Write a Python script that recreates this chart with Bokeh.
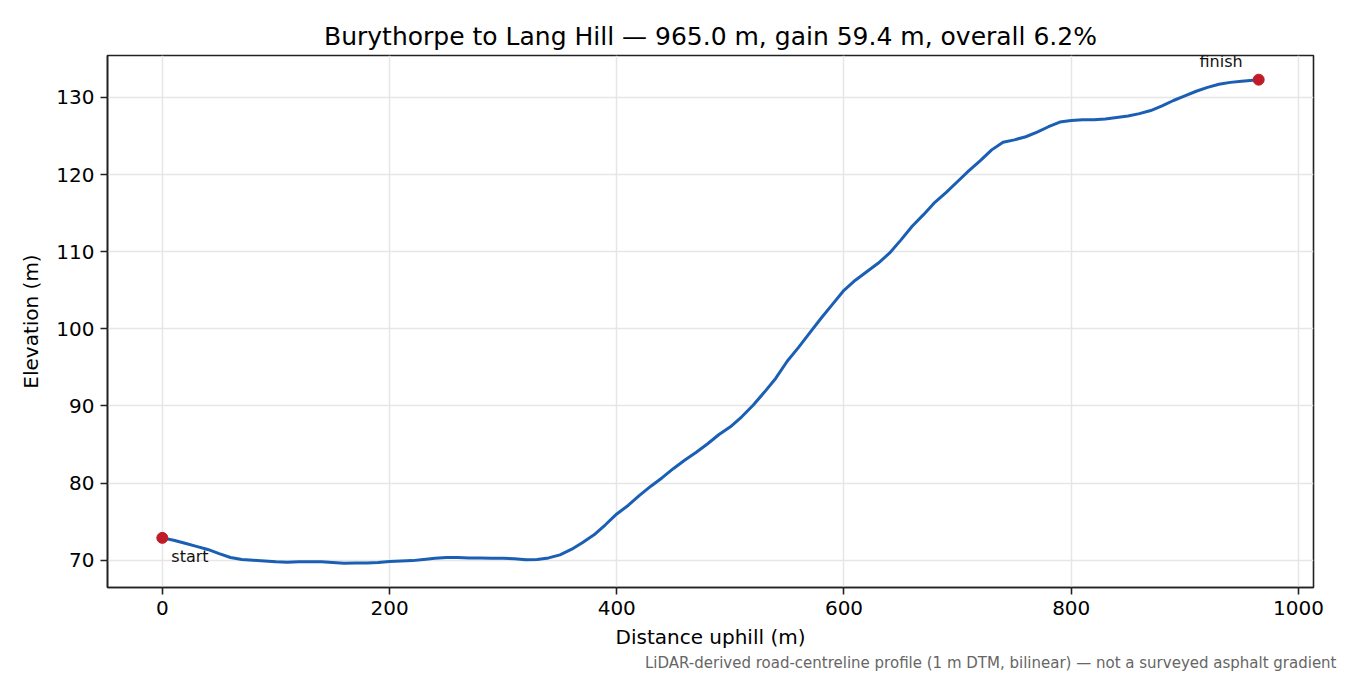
from bokeh.plotting import figure
from bokeh.models import Label, Range1d, Title
from bokeh.embed import file_html
from bokeh.resources import INLINE

# profile (distance along road in m, elevation in m)
distance = [0, 10, 20, 30, 40, 50, 60, 70, 80, 90, 100, 110, 120, 130, 140, 150,
            160, 170, 180, 190, 200, 210, 220, 230, 240, 250, 260, 270, 280, 290,
            300, 310, 320, 330, 340, 350, 360, 370, 380, 390, 400, 410, 420, 430,
            440, 450, 460, 470, 480, 490, 500, 510, 520, 530, 540, 550, 560, 570,
            580, 590, 600, 610, 620, 630, 640, 650, 660, 670, 680, 690, 700, 710,
            720, 730, 740, 750, 760, 770, 780, 790, 800, 810, 820, 830, 840, 850,
            860, 870, 880, 890, 900, 910, 920, 930, 940, 950, 965]
elevation = [72.9, 72.6, 72.2, 71.8, 71.4, 70.85, 70.35, 70.1, 70.0, 69.9, 69.8,
             69.75, 69.8, 69.8, 69.8, 69.7, 69.6, 69.65, 69.65, 69.7, 69.85, 69.9,
             69.95, 70.1, 70.25, 70.35, 70.35, 70.3, 70.3, 70.25, 70.25, 70.2,
             70.05, 70.1, 70.3, 70.7, 71.4, 72.3, 73.3, 74.6, 76.0, 77.1, 78.4,
             79.6, 80.7, 81.9, 83.0, 84.0, 85.1, 86.3, 87.3, 88.6, 90.1, 91.8, 93.6,
             95.8, 97.6, 99.5, 101.4, 103.2, 105.0, 106.3, 107.4, 108.5, 109.8,
             111.5, 113.3, 114.8, 116.4, 117.7, 119.1, 120.5, 121.8, 123.2, 124.2,
             124.5, 124.9, 125.5, 126.2, 126.8, 127.0, 127.1, 127.1, 127.2, 127.4,
             127.6, 127.9, 128.3, 128.9, 129.6, 130.2, 130.8, 131.3, 131.7, 131.95,
             132.1, 132.3]
x_ticks = [0, 200, 400, 600, 800, 1000]
y_ticks = [70, 80, 90, 100, 110, 120, 130]

title = "Burythorpe to Lang Hill \u2014 965.0 m, gain 59.4 m, overall 6.2%"
note = ("LiDAR-derived road-centreline profile (1 m DTM, bilinear) "
        "\u2014 not a surveyed asphalt gradient")

FONT = "DejaVu Sans"
LINE = "#1a5fb4"
DOT = "#c01c28"

span_x = distance[-1] - distance[0]
span_y = max(elevation) - min(elevation)

p = figure(
    width=1346, height=671,
    output_backend="svg", toolbar_location=None,
    x_range=Range1d(distance[0] - 0.05 * span_x, distance[-1] + 0.05 * span_x),
    y_range=Range1d(min(elevation) - 0.05 * span_y, max(elevation) + 0.05 * span_y),
    min_border_left=107, min_border_right=33, min_border_top=55, min_border_bottom=84,
)
p.title.text = title
p.title.align = "center"
p.title.text_font = FONT
p.title.text_font_size = "25px"
p.title.text_font_style = "normal"
p.title.text_color = "#000000"

p.outline_line_color = "#222222"
p.outline_line_width = 1.6
p.outline_line_alpha = 1

for ax in (p.xaxis, p.yaxis):
    ax.axis_line_color = "#222222"
    ax.axis_line_width = 1.6
    ax.major_tick_line_color = "#222222"
    ax.major_tick_line_width = 1.6
    ax.major_tick_out = 7
    ax.major_tick_in = 0
    ax.minor_tick_line_color = None
    ax.major_label_text_font = FONT
    ax.major_label_text_font_size = "20px"
    ax.major_label_text_color = "#000000"
    ax.axis_label_text_font = FONT
    ax.axis_label_text_font_size = "20px"
    ax.axis_label_text_font_style = "normal"
    ax.axis_label_text_color = "#000000"
    ax.major_label_standoff = 6

p.xaxis.ticker = x_ticks
p.yaxis.ticker = y_ticks
p.xaxis.axis_label = "Distance uphill (m)"
p.yaxis.axis_label = "Elevation (m)"
p.xaxis.axis_label_standoff = 7
p.yaxis.axis_label_standoff = 10

p.grid.grid_line_color = "#e6e6e6"
p.grid.grid_line_width = 1.5

p.line(distance, elevation, line_color=LINE, line_width=3)
p.scatter([distance[0], distance[-1]], [elevation[0], elevation[-1]],
          size=11, fill_color=DOT, line_color=DOT)

p.add_layout(Label(x=distance[0], y=elevation[0], text="start",
                   x_offset=9, y_offset=-19, text_baseline="middle",
                   text_font=FONT, text_font_size="16px", text_color="#111111"))
p.add_layout(Label(x=distance[-1], y=elevation[-1], text="finish",
                   x_offset=-16, y_offset=18, text_align="right",
                   text_baseline="middle",
                   text_font=FONT, text_font_size="16px", text_color="#111111"))

# footnote below the axis label, right aligned a little past the frame
p.add_layout(Title(text=note, align="right", offset=-23, standoff=0,
                   text_font=FONT, text_font_size="15px",
                   text_font_style="normal", text_color="#666666"), "below")

open("out.html", "w").write(file_html(p, INLINE))
